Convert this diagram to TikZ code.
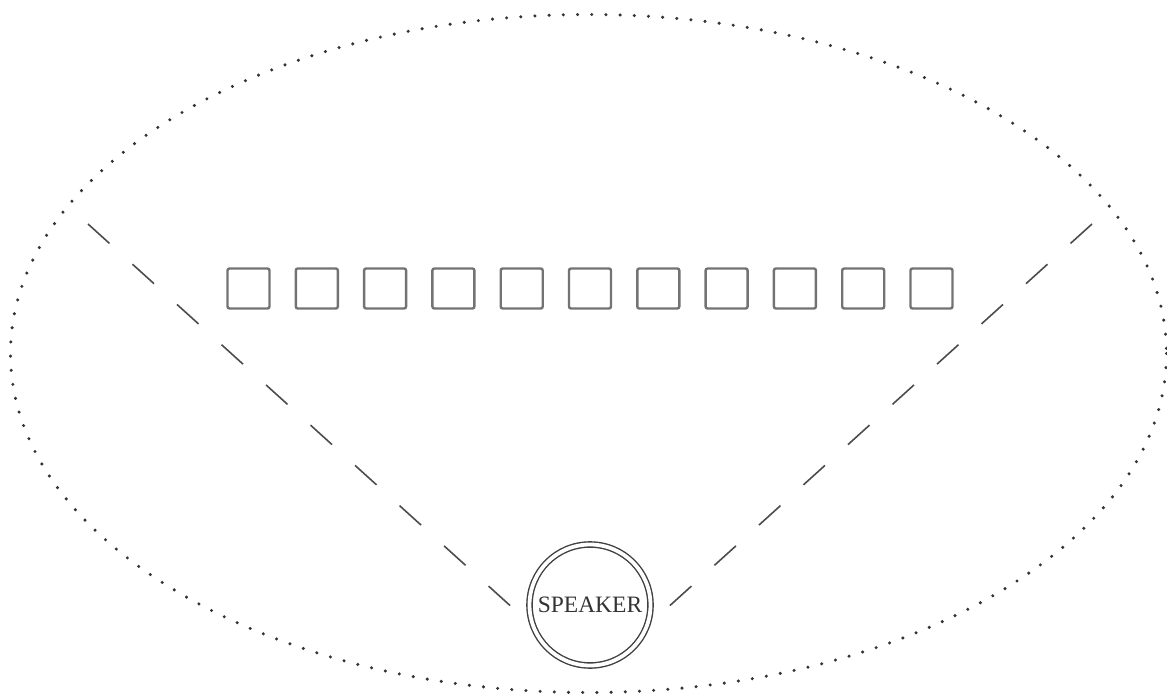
\documentclass[tikz,border=0pt]{standalone}
\usepackage{fontspec}
\setmainfont{Liberation Serif}
\begin{document}
\begin{tikzpicture}[x=1pt,y=-1pt,
  boundary/.style={draw=black!80, line width=3.4pt, line cap=round, dash pattern=on 0pt off 14.2pt},
  seat/.style={draw=black!55, line width=2.4pt, rounded corners=2pt, minimum width=42pt, minimum height=40pt, inner sep=0pt},
  spk/.style={circle, draw=black!75, line width=1.4pt, double, double distance=3.8pt, minimum size=121pt, inner sep=0pt, text=black!80, font=\fontsize{23.5}{25}\selectfont},
  sight/.style={draw=black!70, line width=1.6pt, dash pattern=on 29pt off 31pt}]
\useasboundingbox (0,0) rectangle (1167,695);
\draw[boundary] (588.5,353.5) ellipse [x radius=578, y radius=339];
\foreach \i in {0,...,10} {
  \node[seat] (s\i) at ({248.5+68.3*\i},288.5) {};
}
\node[spk] (speaker) at (590,605) {SPEAKER};
\coordinate (lt) at (88,224);
\coordinate (lb) at (515,610);
\coordinate (rt) at (1092,224);
\coordinate (rb) at (665,610);
\draw[sight] (lt) -- (lb);
\draw[sight] (rt) -- (rb);
\end{tikzpicture}
\end{document}
